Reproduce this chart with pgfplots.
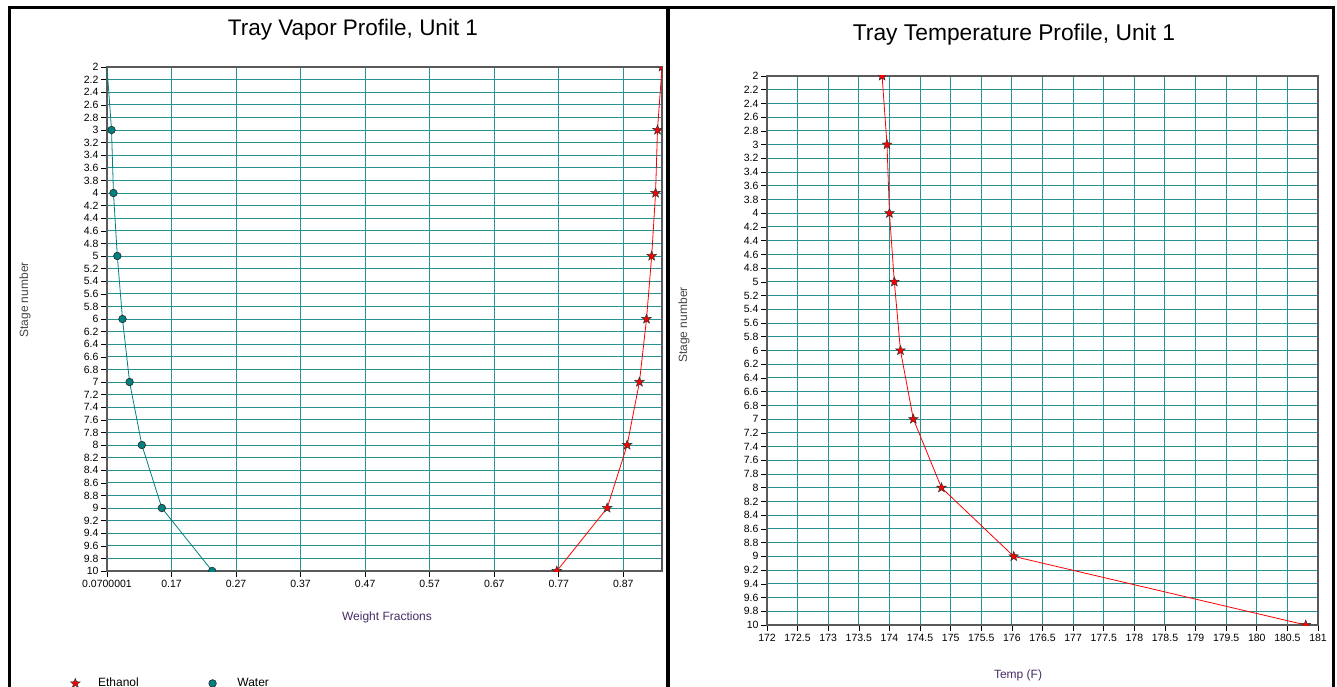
\documentclass[border=0pt]{standalone}
\usepackage{fontspec}
\setmainfont{Liberation Sans}
\usepackage{pgfplots}
\usepackage{pgfplotstable}
\pgfplotsset{compat=1.18}
\definecolor{gridteal}{RGB}{40,145,145}
\definecolor{wteal}{RGB}{0,128,128}
\definecolor{labpurple}{RGB}{70,45,100}
\definecolor{labgray}{RGB}{70,70,70}

\pgfdeclareplotmark{fstar}{%
  \pgfpathmoveto{\pgfpointpolar{90}{\pgfplotmarksize}}%
  \pgfpathlineto{\pgfpointpolar{126}{0.42\pgfplotmarksize}}%
  \pgfpathlineto{\pgfpointpolar{162}{\pgfplotmarksize}}%
  \pgfpathlineto{\pgfpointpolar{198}{0.42\pgfplotmarksize}}%
  \pgfpathlineto{\pgfpointpolar{234}{\pgfplotmarksize}}%
  \pgfpathlineto{\pgfpointpolar{270}{0.42\pgfplotmarksize}}%
  \pgfpathlineto{\pgfpointpolar{306}{\pgfplotmarksize}}%
  \pgfpathlineto{\pgfpointpolar{342}{0.42\pgfplotmarksize}}%
  \pgfpathlineto{\pgfpointpolar{18}{\pgfplotmarksize}}%
  \pgfpathlineto{\pgfpointpolar{54}{0.42\pgfplotmarksize}}%
  \pgfpathclose
  \pgfusepathqfillstroke
}

\pgfplotstableread{
stage water ethanol
2  0.070 0.930
3  0.077 0.923
4  0.080 0.920
5  0.086 0.914
6  0.094 0.906
7  0.105 0.895
8  0.124 0.876
9  0.155 0.845
10 0.233 0.767
}\vapor

\pgfplotstableread{
stage temp
2  173.88
3  173.96
4  174.00
5  174.08
6  174.18
7  174.39
8  174.85
9  176.03
10 180.80
}\temperature

\pgfplotsset{
  trayaxis/.style={
    scale only axis,
    y dir=reverse,
    ymin=2, ymax=10,
    ytick={2,2.2,2.4,2.6,2.8,3,3.2,3.4,3.6,3.8,4,4.2,4.4,4.6,4.8,5,5.2,5.4,5.6,5.8,6,6.2,6.4,6.6,6.8,7,7.2,7.4,7.6,7.8,8,8.2,8.4,8.6,8.8,9,9.2,9.4,9.6,9.8,10},
    yticklabels={2,2.2,2.4,2.6,2.8,3,3.2,3.4,3.6,3.8,4,4.2,4.4,4.6,4.8,5,5.2,5.4,5.6,5.8,6,6.2,6.4,6.6,6.8,7,7.2,7.4,7.6,7.8,8,8.2,8.4,8.6,8.8,9,9.2,9.4,9.6,9.8,10},
    grid=major,
    grid style={gridteal, line width=1pt},
    axis line style={gray!70!black, line width=1.3pt},
    tick style={black, line width=0.6pt},
    tick align=outside,
    major tick length=6pt,
    xtick pos=bottom, ytick pos=left,
    ticklabel style={font=\fontsize{10.5}{11}\selectfont, text=black},
    yticklabel style={xshift=1pt},
    /pgf/number format/assume math mode=true,
    clip marker paths=true,
  }
}

\begin{document}
\begin{tikzpicture}[x=1pt,y=1pt]
\useasboundingbox (0,0) rectangle (1337,687);
% panel frames
\draw[line width=3pt] (9.5,-5) -- (9.5,679.5) -- (1333,679.5) -- (1333,-5);
\draw[line width=3.5pt] (668,-5) -- (668,679.5);

% titles and labels
\node[font=\fontsize{22.5}{24}\selectfont] at (353,657.5) {Tray Vapor Profile, Unit 1};
\node[font=\fontsize{22.8}{24}\selectfont] at (1014,652.5) {Tray Temperature Profile, Unit 1};
\node[font=\fontsize{12}{14}\selectfont, text=labpurple] at (387,70) {Weight Fractions};
\node[font=\fontsize{12}{14}\selectfont, text=labpurple] at (1018,12) {Temp (F)};
\node[font=\fontsize{12}{14}\selectfont, text=labgray, rotate=90] at (25,387) {Stage number};
\node[font=\fontsize{12}{14}\selectfont, text=labgray, rotate=90] at (684,362) {Stage number};

% left: vapor profile
\begin{axis}[trayaxis,
  at={(107pt,116pt)}, anchor=south west,
  width=555pt, height=504pt,
  xmin=0.0700001, xmax=0.93,
  xtick={0.0700001,0.17,0.27,0.37,0.47,0.57,0.67,0.77,0.87},
  xticklabels={0.0700001,0.17,0.27,0.37,0.47,0.57,0.67,0.77,0.87},
  legend columns=2,
  legend style={at={(-0.066,-0.223)}, anchor=west, draw=none, fill=none,
    font=\fontsize{12}{14}\selectfont, inner sep=0pt,
    /tikz/every even column/.append style={column sep=68pt}},
  legend cell align=left,
]
\addplot[red, line width=0.8pt, mark=fstar, mark size=5pt,
  mark options={fill=red, draw=black!80, line width=0.5pt}, forget plot]
  table[x=ethanol, y=stage] {\vapor};
\addplot[wteal, line width=0.8pt, mark=*, mark size=3.8pt,
  mark options={fill=wteal, draw=black!85, line width=0.6pt}, forget plot]
  table[x=water, y=stage] {\vapor};
\addlegendimage{only marks, mark=fstar, mark size=5pt, mark options={fill=red, draw=black!80, line width=0.5pt}}
\addlegendentry{\hspace{16pt}Ethanol}
\addlegendimage{only marks, mark=*, mark size=3.8pt, mark options={fill=wteal, draw=black!85, line width=0.6pt}}
\addlegendentry{\hspace{19pt}Water}
\end{axis}

% right: temperature profile
\begin{axis}[trayaxis,
  at={(767pt,62pt)}, anchor=south west,
  width=551pt, height=549pt,
  xmin=172, xmax=181,
  xtick={172,172.5,173,173.5,174,174.5,175,175.5,176,176.5,177,177.5,178,178.5,179,179.5,180,180.5,181},
  xticklabels={172,172.5,173,173.5,174,174.5,175,175.5,176,176.5,177,177.5,178,178.5,179,179.5,180,180.5,181},
]
\addplot[red, line width=0.8pt, mark=fstar, mark size=5pt,
  mark options={fill=red, draw=black!80, line width=0.5pt}]
  table[x=temp, y=stage] {\temperature};
\end{axis}
\end{tikzpicture}
\end{document}
